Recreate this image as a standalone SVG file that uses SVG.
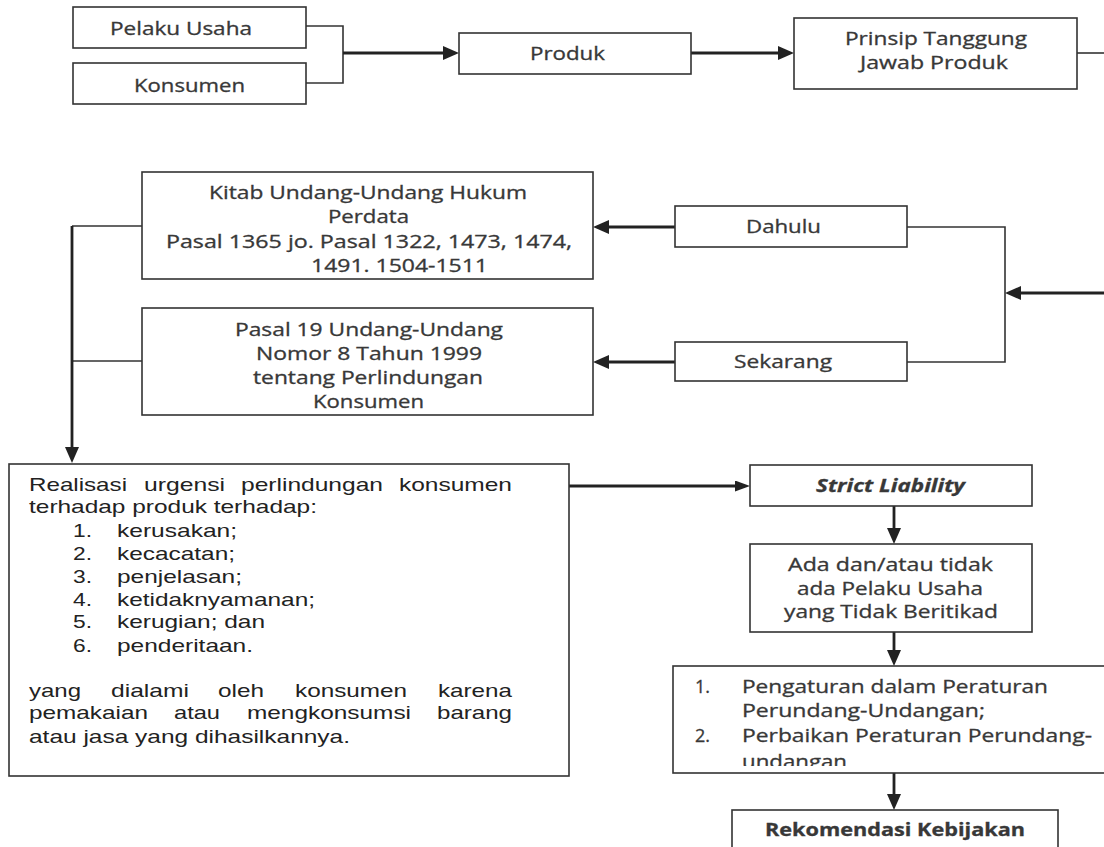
<svg xmlns="http://www.w3.org/2000/svg" width="1104" height="847" viewBox="0 0 1104 847">
<style>
.box{fill:#fff;stroke:#333;stroke-width:1.6}
.thin{fill:none;stroke:#333;stroke-width:1.6}
.thick{fill:none;stroke:#222;stroke-width:2.8}
.c{font-family:"Open Sans","Liberation Sans",sans-serif;font-size:17.5px;fill:#383838;stroke:#383838;stroke-width:0.3}
.a{font-family:"Liberation Sans",Arial,sans-serif;font-size:18.5px;fill:#222}
.b{font-weight:bold}
.bi{font-weight:bold;font-style:italic}
</style>
<defs>
<marker id="ah" viewBox="0 0 16 14" markerWidth="16" markerHeight="14" refX="8" refY="7" markerUnits="userSpaceOnUse" orient="auto"><path d="M0,0 L16,7 L0,14 z" fill="#222"/></marker>
<marker id="ahs" viewBox="0 0 15 11" markerWidth="15" markerHeight="11" refX="7" refY="5.5" markerUnits="userSpaceOnUse" orient="auto"><path d="M0,0 L15,5.5 L0,11 z" fill="#222"/></marker>
<clipPath id="pclip"><rect x="673" y="666" width="440" height="100"/></clipPath>
</defs>
<rect width="1104" height="847" fill="#fff"/>

<g id="connectors">
<path class="thin" d="M306,26 H343 V83 H306"/>
<path class="thick" d="M343,53 H451" marker-end="url(#ah)"/>
<path class="thick" d="M691,53 H786" marker-end="url(#ah)"/>
<path class="thin" d="M1077,53 H1104"/>
<path class="thick" d="M1104,293 H1013" marker-end="url(#ah)"/>
<path class="thin" d="M907,227 H1005 V362 H907"/>
<path class="thick" d="M675,227 H601" marker-end="url(#ah)"/>
<path class="thick" d="M675,362 H601" marker-end="url(#ah)"/>
<path class="thin" d="M142,226 H72 M142,361 H72"/>
<path class="thick" d="M72,226 V455" marker-end="url(#ah)"/>
<path class="thick" d="M569,486 H742" marker-end="url(#ahs)"/>
<path class="thick" d="M894,506 V536" marker-end="url(#ah)"/>
<path class="thick" d="M894,632 V658" marker-end="url(#ah)"/>
<path class="thick" d="M894,773 V802" marker-end="url(#ah)"/>
</g>

<g id="pelaku">
<rect class="box" x="73" y="7" width="233" height="41"/>
<text class="c" x="110" y="35" textLength="142" lengthAdjust="spacingAndGlyphs">Pelaku Usaha</text>
</g>
<g id="konsumen">
<rect class="box" x="73" y="63" width="233" height="41"/>
<text class="c" x="134" y="92" textLength="111" lengthAdjust="spacingAndGlyphs">Konsumen</text>
</g>
<g id="produk">
<rect class="box" x="459" y="33" width="232" height="41"/>
<text class="c" x="530" y="60" textLength="75" lengthAdjust="spacingAndGlyphs">Produk</text>
</g>
<g id="prinsip">
<rect class="box" x="794" y="18" width="283" height="71"/>
<text class="c" x="845" y="45" textLength="182" lengthAdjust="spacingAndGlyphs">Prinsip Tanggung</text>
<text class="c" x="860" y="69" textLength="148" lengthAdjust="spacingAndGlyphs">Jawab Produk</text>
</g>
<g id="kuhperdata">
<rect class="box" x="142" y="172" width="451" height="107"/>
<text class="c" x="209" y="199" textLength="318" lengthAdjust="spacingAndGlyphs">Kitab Undang-Undang Hukum</text>
<text class="c" x="328" y="223" textLength="81" lengthAdjust="spacingAndGlyphs">Perdata</text>
<text class="c" x="166" y="248" textLength="406" lengthAdjust="spacingAndGlyphs">Pasal 1365 jo. Pasal 1322, 1473, 1474,</text>
<text class="c" x="311" y="272" textLength="177" lengthAdjust="spacingAndGlyphs">1491. 1504-1511</text>
</g>
<g id="uupk">
<rect class="box" x="142" y="308" width="451" height="107"/>
<text class="c" x="235" y="336" textLength="268" lengthAdjust="spacingAndGlyphs">Pasal 19 Undang-Undang</text>
<text class="c" x="256" y="360" textLength="226" lengthAdjust="spacingAndGlyphs">Nomor 8 Tahun 1999</text>
<text class="c" x="253" y="384" textLength="230" lengthAdjust="spacingAndGlyphs">tentang Perlindungan</text>
<text class="c" x="313" y="408" textLength="111" lengthAdjust="spacingAndGlyphs">Konsumen</text>
</g>
<g id="dahulu">
<rect class="box" x="675" y="206" width="232" height="41"/>
<text class="c" x="746" y="233" textLength="75" lengthAdjust="spacingAndGlyphs">Dahulu</text>
</g>
<g id="sekarang">
<rect class="box" x="675" y="342" width="232" height="39"/>
<text class="c" x="734" y="368" textLength="98" lengthAdjust="spacingAndGlyphs">Sekarang</text>
</g>
<g id="realisasi">
<rect class="box" x="9" y="464" width="560" height="312"/>
<text class="a" x="29" y="491" textLength="98" lengthAdjust="spacingAndGlyphs">Realisasi</text>
<text class="a" x="144" y="491" textLength="81" lengthAdjust="spacingAndGlyphs">urgensi</text>
<text class="a" x="241" y="491" textLength="142" lengthAdjust="spacingAndGlyphs">perlindungan</text>
<text class="a" x="399" y="491" textLength="113" lengthAdjust="spacingAndGlyphs">konsumen</text>
<text class="a" x="29" y="513" textLength="288" lengthAdjust="spacingAndGlyphs">terhadap produk terhadap:</text>
<text class="a" x="73" y="537" textLength="19" lengthAdjust="spacingAndGlyphs">1.</text>
<text class="a" x="117" y="537" textLength="120" lengthAdjust="spacingAndGlyphs">kerusakan;</text>
<text class="a" x="73" y="560" textLength="19" lengthAdjust="spacingAndGlyphs">2.</text>
<text class="a" x="117" y="560" textLength="118" lengthAdjust="spacingAndGlyphs">kecacatan;</text>
<text class="a" x="73" y="583" textLength="19" lengthAdjust="spacingAndGlyphs">3.</text>
<text class="a" x="117" y="583" textLength="125" lengthAdjust="spacingAndGlyphs">penjelasan;</text>
<text class="a" x="73" y="606" textLength="19" lengthAdjust="spacingAndGlyphs">4.</text>
<text class="a" x="117" y="606" textLength="198" lengthAdjust="spacingAndGlyphs">ketidaknyamanan;</text>
<text class="a" x="73" y="628" textLength="19" lengthAdjust="spacingAndGlyphs">5.</text>
<text class="a" x="117" y="628" textLength="148" lengthAdjust="spacingAndGlyphs">kerugian; dan</text>
<text class="a" x="73" y="652" textLength="19" lengthAdjust="spacingAndGlyphs">6.</text>
<text class="a" x="117" y="652" textLength="136" lengthAdjust="spacingAndGlyphs">penderitaan.</text>
<text class="a" x="29" y="697" textLength="52" lengthAdjust="spacingAndGlyphs">yang</text>
<text class="a" x="111" y="697" textLength="78" lengthAdjust="spacingAndGlyphs">dialami</text>
<text class="a" x="218" y="697" textLength="46" lengthAdjust="spacingAndGlyphs">oleh</text>
<text class="a" x="295" y="697" textLength="112" lengthAdjust="spacingAndGlyphs">konsumen</text>
<text class="a" x="438" y="697" textLength="74" lengthAdjust="spacingAndGlyphs">karena</text>
<text class="a" x="29" y="719" textLength="119" lengthAdjust="spacingAndGlyphs">pemakaian</text>
<text class="a" x="174" y="719" textLength="46" lengthAdjust="spacingAndGlyphs">atau</text>
<text class="a" x="247" y="719" textLength="164" lengthAdjust="spacingAndGlyphs">mengkonsumsi</text>
<text class="a" x="437" y="719" textLength="75" lengthAdjust="spacingAndGlyphs">barang</text>
<text class="a" x="29" y="743" textLength="321" lengthAdjust="spacingAndGlyphs">atau jasa yang dihasilkannya.</text>
</g>
<g id="strict">
<rect class="box" x="750" y="465" width="282" height="41"/>
<text class="c bi" x="816" y="492" textLength="149" lengthAdjust="spacingAndGlyphs">Strict Liability</text>
</g>
<g id="ada">
<rect class="box" x="750" y="544" width="282" height="88"/>
<text class="c" x="788" y="571" textLength="205" lengthAdjust="spacingAndGlyphs">Ada dan/atau tidak</text>
<text class="c" x="797" y="595" textLength="186" lengthAdjust="spacingAndGlyphs">ada Pelaku Usaha</text>
<text class="c" x="784" y="618" textLength="214" lengthAdjust="spacingAndGlyphs">yang Tidak Beritikad</text>
</g>
<g id="pengaturan">
<rect class="box" x="673" y="666" width="440" height="107"/>
<text class="c" x="695" y="693" textLength="15" lengthAdjust="spacingAndGlyphs">1.</text>
<text class="c" x="742" y="693" textLength="306" lengthAdjust="spacingAndGlyphs">Pengaturan dalam Peraturan</text>
<text class="c" x="742" y="717" textLength="243" lengthAdjust="spacingAndGlyphs">Perundang-Undangan;</text>
<text class="c" x="695" y="742" textLength="15" lengthAdjust="spacingAndGlyphs">2.</text>
<text class="c" x="742" y="742" textLength="350" lengthAdjust="spacingAndGlyphs">Perbaikan Peraturan Perundang-</text>
<text class="c" x="742" y="768" textLength="105" lengthAdjust="spacingAndGlyphs" clip-path="url(#pclip)">undangan</text>
</g>
<g id="rekomendasi">
<rect class="box" x="732" y="810" width="326" height="60"/>
<text class="c b" x="765" y="836" textLength="260" lengthAdjust="spacingAndGlyphs">Rekomendasi Kebijakan</text>
</g>
</svg>
